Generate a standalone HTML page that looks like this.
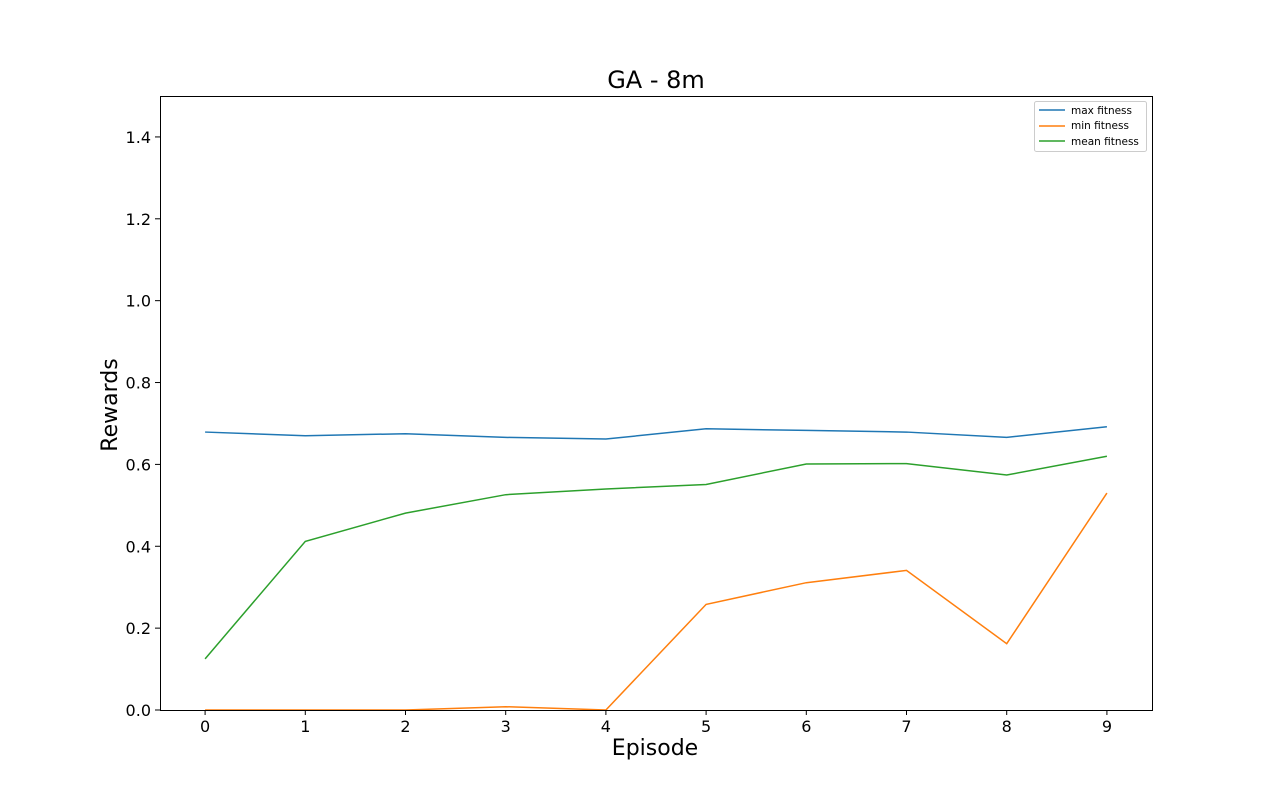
<!DOCTYPE html>
<html><head><meta charset="utf-8"><style>
body{margin:0;background:#fff;font-family:"DejaVu Sans","Liberation Sans",sans-serif}
</style></head><body>
<svg id="chart" width="1280" height="798" xmlns="http://www.w3.org/2000/svg" font-family="DejaVu Sans, Liberation Sans, sans-serif">
<rect width="1280" height="798" fill="#fff"/>
<text x="656" y="88" font-size="24" text-anchor="middle">GA - 8m</text>
<text x="655" y="755" font-size="22" text-anchor="middle">Episode</text>
<text x="117" y="405" font-size="22" text-anchor="middle" transform="rotate(-90 117 405)">Rewards</text>
<g id="ticks"></g>
<g id="series"></g>
<rect x="160.5" y="96.5" width="992" height="614" fill="none" stroke="#000" stroke-width="1"/>
<g>
<rect x="1034.5" y="101.5" width="112" height="50" rx="2" fill="#fff" stroke="#ccc"/>
<line x1="1039" y1="110" x2="1065" y2="110" stroke="#1f77b4" stroke-width="1.5"/>
<text x="1071" y="114" font-size="10.5">max fitness</text>
<line x1="1039" y1="126" x2="1065" y2="126" stroke="#ff7f0e" stroke-width="1.5"/>
<text x="1071" y="129" font-size="10.5">min fitness</text>
<line x1="1039" y1="141" x2="1065" y2="141" stroke="#2ca02c" stroke-width="1.5"/>
<text x="1071" y="145" font-size="10.5">mean fitness</text>
</g>
</svg>
<script>
const episodes=[0,1,2,3,4,5,6,7,8,9];
const maxFitness=[0.679,0.670,0.675,0.666,0.662,0.687,0.683,0.679,0.666,0.692];
const minFitness=[0,0,0,0.008,0,0.258,0.311,0.341,0.162,0.530];
const meanFitness=[0.125,0.412,0.481,0.526,0.540,0.551,0.601,0.602,0.574,0.620];
const yTicks=["0.0","0.2","0.4","0.6","0.8","1.0","1.2","1.4"];
const xTicks=["0","1","2","3","4","5","6","7","8","9"];
const NS="http://www.w3.org/2000/svg";
function xs(v){return 160+(v+0.45)/9.9*992;}
function ys(v){return 710-v/1.5*614;}
const tg=document.getElementById('ticks');
xTicks.forEach(t=>{const x=xs(+t);
 const l=document.createElementNS(NS,'line');l.setAttribute('x1',x);l.setAttribute('x2',x);l.setAttribute('y1',710);l.setAttribute('y2',715);l.setAttribute('stroke','#000');
 
 tg.appendChild(l);
 const tx=document.createElementNS(NS,'text');tx.setAttribute('x',x);tx.setAttribute('y',732);tx.setAttribute('font-size','16');tx.setAttribute('text-anchor','middle');tx.textContent=t;
 
 tg.appendChild(tx);});
yTicks.forEach(t=>{const y=ys(+t);
 const l=document.createElementNS(NS,'line');l.setAttribute('x1',155);l.setAttribute('x2',160);l.setAttribute('y1',y);l.setAttribute('y2',y);l.setAttribute('stroke','#000');
 
 tg.appendChild(l);
 const tx=document.createElementNS(NS,'text');tx.setAttribute('x',151);tx.setAttribute('y',y+6);tx.setAttribute('font-size','16');tx.setAttribute('text-anchor','end');tx.textContent=t;
 
 tg.appendChild(tx);});
const sg=document.getElementById('series');
[[maxFitness,'#1f77b4','max-fitness-line'],[minFitness,'#ff7f0e','min-fitness-line'],[meanFitness,'#2ca02c','mean-fitness-line']].forEach(([d,c,n])=>{
 const p=document.createElementNS(NS,'polyline');
 p.setAttribute('points',d.map((v,i)=>xs(episodes[i])+','+ys(v)).join(' '));
 p.setAttribute('fill','none');p.setAttribute('stroke',c);p.setAttribute('stroke-width','1.5');
 
 
 sg.appendChild(p);});
</script>
</body></html>
